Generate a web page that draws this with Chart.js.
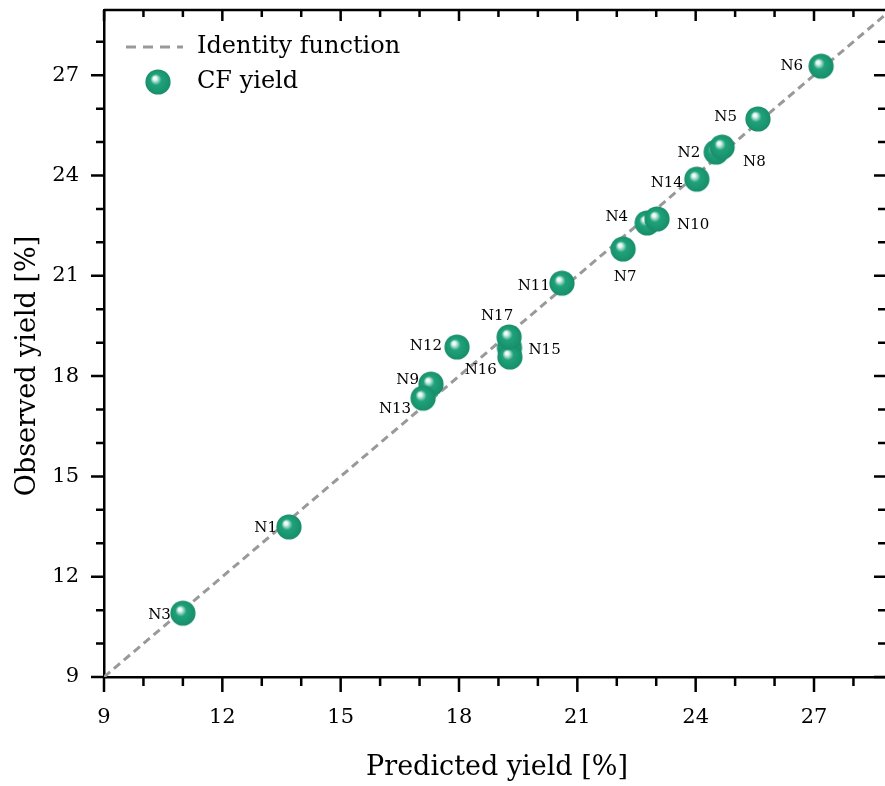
<!DOCTYPE html>
<html>
<head>
<meta charset="utf-8">
<script src="https://cdn.jsdelivr.net/npm/chart.js@4.4.1/dist/chart.umd.min.js"></script>
<style>
  html, body { margin: 0; padding: 0; background: #fff; }
</style>
</head>
<body>
<canvas id="myChart" width="885" height="786"></canvas>
<script>
// sample names and yields
const sampleNames = ["N1", "N2", "N3", "N4", "N5", "N6", "N7", "N8", "N9",
  "N10", "N11", "N12", "N13", "N14", "N15", "N16", "N17"];
const predictedYield = [13.69, 24.52, 11.0, 22.77, 25.58, 27.18, 22.16, 24.67, 17.29,
  23.02, 20.61, 17.95, 17.09, 24.03, 19.28, 19.29, 19.27];
const observedYield = [13.49, 24.7, 10.91, 22.58, 25.69, 27.27, 21.8, 24.85, 17.76,
  22.7, 20.78, 18.87, 17.34, 23.89, 18.85, 18.57, 19.17];
const identityLine = [9, 29];
const majorTicks = [9, 12, 15, 18, 21, 24, 27];

// where each point label sits relative to its marker (px offset + alignment)
const labelPlacement = {
  N1: [-12, 1, "right"], N2: [-16, 1, "right"], N3: [-12, 2, "right"],
  N4: [-19, -6, "right"], N5: [-21, -2, "right"], N6: [-18, 0, "right"],
  N7: [2, 28, "center"], N8: [21, 15, "left"], N9: [-12, -4, "right"],
  N10: [20, 6, "left"], N11: [-12, 3, "right"], N12: [-15, -1, "right"],
  N13: [-12, 11, "right"], N14: [-14, 4, "right"], N15: [19, 2, "left"],
  N16: [-13, 13, "right"], N17: [-12, -21, "center"],
};

const FONT = "'DejaVu Serif', 'Liberation Serif', serif";
const GREEN = "#1b9e77";

// shiny sphere marker, used as pointStyle
const makeSphere = (r) => {
  const c = document.createElement("canvas");
  c.width = c.height = Math.ceil(2 * r + 2);
  const g = c.getContext("2d");
  const cx = c.width / 2, cy = c.height / 2;
  const hx = cx - r * 0.28, hy = cy - r * 0.33;
  const grad = g.createRadialGradient(hx, hy, 0, cx, cy, r);
  grad.addColorStop(0, "#ffffff");
  grad.addColorStop(0.15, "#e2f5ee");
  grad.addColorStop(0.44, "#1fa27b");
  grad.addColorStop(1, "#178e69");
  g.fillStyle = grad;
  g.beginPath();
  g.arc(cx, cy, r, 0, Math.PI * 2);
  g.fill();
  return c;
};
const sphere = makeSphere(12.6);

// axes frame: spines, inward/outward ticks, axis titles, legend
const framePlugin = {
  id: "frame",
  afterDraw(chart) {
    const { ctx, chartArea: a, scales } = chart;
    ctx.save();
    ctx.strokeStyle = "#000";
    ctx.lineWidth = 2.5;
    ctx.lineCap = "butt";
    // top spine
    ctx.beginPath();
    ctx.moveTo(a.left, a.top);
    ctx.lineTo(a.right, a.top);
    ctx.stroke();
    const xs = scales.x, ys = scales.y;
    xs.ticks.forEach((t) => {
      if (!Number.isInteger(t.value)) return;
      const major = majorTicks.includes(t.value);
      const px = xs.getPixelForValue(t.value);
      ctx.beginPath();
      ctx.moveTo(px, a.bottom);
      ctx.lineTo(px, a.bottom + (major ? 15 : 9));
      ctx.moveTo(px, a.top);
      ctx.lineTo(px, a.top + (major ? 11 : 7));
      ctx.stroke();
    });
    ys.ticks.forEach((t) => {
      if (!Number.isInteger(t.value)) return;
      const major = majorTicks.includes(t.value);
      const py = ys.getPixelForValue(t.value);
      ctx.beginPath();
      ctx.moveTo(a.left - (major ? 13 : 8), py);
      ctx.lineTo(a.left, py);
      ctx.moveTo(a.right, py);
      ctx.lineTo(a.right - (major ? 11 : 7), py);
      ctx.stroke();
    });

    // axis titles
    ctx.fillStyle = "#000";
    ctx.font = "27px " + FONT;
    ctx.textAlign = "center";
    ctx.textBaseline = "middle";
    ctx.fillText("Predicted yield [%]", 497, 768);
    ctx.save();
    ctx.translate(28, 366);
    ctx.rotate(-Math.PI / 2);
    ctx.fillText("Observed yield [%]", 0, 0);
    ctx.restore();

    // legend
    const line = chart.data.datasets[0];
    ctx.strokeStyle = line.borderColor;
    ctx.lineWidth = line.borderWidth;
    ctx.setLineDash([10, 7]);
    ctx.beginPath();
    ctx.moveTo(126, 47);
    ctx.lineTo(183, 47);
    ctx.stroke();
    ctx.setLineDash([]);
    ctx.drawImage(sphere, 158 - sphere.width / 2, 82 - sphere.height / 2);
    ctx.font = "24px " + FONT;
    ctx.textAlign = "left";
    ctx.fillText(line.label, 197, 47);
    ctx.fillText(chart.data.datasets[1].label, 197, 82);
    ctx.restore();
  },
  afterDatasetsDraw(chart) {
    const { ctx } = chart;
    const meta = chart.getDatasetMeta(1);
    ctx.save();
    ctx.fillStyle = "#000";
    ctx.font = "15px " + FONT;
    ctx.textBaseline = "middle";
    meta.data.forEach((pt, i) => {
      const name = sampleNames[i];
      const [dx, dy, align] = labelPlacement[name];
      ctx.textAlign = align;
      ctx.fillText(name, pt.x + dx, pt.y + dy);
    });
    ctx.restore();
  },
};

const ctx = document.getElementById("myChart").getContext("2d");

const data = {
  datasets: [
    {
      type: "line",
      label: "Identity function",
      data: identityLine.map((v) => ({ x: v, y: v })),
      borderColor: "#999999",
      borderWidth: 3,
      borderDash: [8, 5],
      pointRadius: 0,
      order: 2,
    },
    {
      type: "scatter",
      label: "CF yield",
      data: predictedYield.map((p, i) => ({ x: p, y: observedYield[i] })),
      pointStyle: sphere,
      pointRadius: 13,
      backgroundColor: GREEN,
      order: 1,
    },
  ],
};

const tickCallback = (v) => (majorTicks.includes(v) ? String(v) : "");

// drop the label overflow padding so the plot box lands where we want it
const noPad = (scale) => {
  scale.paddingTop = 0;
  scale.paddingBottom = 0;
  scale.paddingLeft = 0;
  scale.paddingRight = 0;
};

const config = {
  type: "scatter",
  data: data,
  options: {
    responsive: false,
    animation: false,
    layout: { autoPadding: false, padding: { left: 0, top: 10, right: 0, bottom: 0 } },
    plugins: { legend: { display: false }, tooltip: { enabled: false } },
    scales: {
      x: {
        type: "linear",
        position: "bottom",
        min: 9,
        max: 28.8,
        grid: { display: false },
        border: { color: "#000", width: 2.5 },
        ticks: {
          stepSize: 1,
          includeBounds: false,
          autoSkip: false,
          maxRotation: 0,
          padding: 20,
          color: "#000",
          font: { family: FONT, size: 21 },
          callback: tickCallback,
        },
        afterFit: (scale) => { scale.height = 109; noPad(scale); },
      },
      y: {
        type: "linear",
        position: "left",
        min: 9,
        max: 28.95,
        grid: { display: false },
        border: { color: "#000", width: 2.5 },
        ticks: {
          stepSize: 1,
          includeBounds: false,
          autoSkip: false,
          padding: 17,
          color: "#000",
          font: { family: FONT, size: 21 },
          callback: tickCallback,
        },
        afterFit: (scale) => { scale.width = 104; noPad(scale); },
      },
    },
  },
  plugins: [framePlugin],
};

const myChart = new Chart(ctx, config);
</script>
</body>
</html>
